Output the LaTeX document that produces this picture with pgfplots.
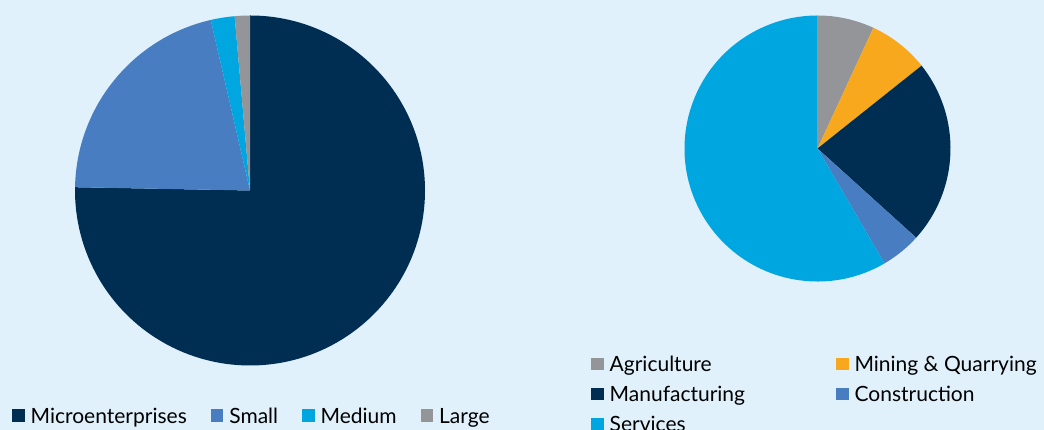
\documentclass[border=0pt]{standalone}
\usepackage{pgfplots}
\pgfplotsset{compat=1.18}
\usepackage{pgfplotstable}
\usepackage{fontspec}
\setmainfont{Lato}
\definecolor{cnavy}{RGB}{0,46,82}
\definecolor{csmall}{RGB}{72,126,193}
\definecolor{ccyan}{RGB}{0,166,224}
\definecolor{cgray}{RGB}{147,149,152}
\definecolor{corange}{RGB}{247,168,29}
\definecolor{cbg}{RGB}{224,241,251}

\pgfplotstableread{
sector share color
Microenterprises 75.3 cnavy
Small 21.1 csmall
Medium 2.2 ccyan
Large 1.4 cgray
}\sizedata
\pgfplotstableread{
sector share color
Agriculture 6.9 cgray
Mining 7.4 corange
Manufacturing 22.4 cnavy
Construction 4.9 csmall
Services 58.4 ccyan
}\sectordata

\newcommand\buildpie[5]{%
  \pgfplotstablegetrowsof{#1}\pgfmathtruncatemacro\nrows{\pgfplotsretval-1}%
  \gdef#5{}\xdef\cum{0}%
  \foreach \i in {0,...,\nrows}{%
    \pgfplotstablegetelem{\i}{share}\of#1\let\val\pgfplotsretval
    \pgfplotstablegetelem{\i}{color}\of#1\let\col\pgfplotsretval
    \pgfmathsetmacro\sa{90-3.6*\cum}%
    \pgfmathsetmacro\ea{90-3.6*(\cum+\val)}%
    \pgfmathsetmacro\newcum{\cum+\val}\xdef\cum{\newcum}%
    \xdef#5{\unexpanded\expandafter{#5}\noexpand\fill[\col] (axis cs:#2,#3) -- ++(\sa:#4pt) arc[start angle=\sa, end angle=\ea, radius=#4pt] -- cycle;}%
  }%
}
\buildpie{\sizedata}{250}{239.5}{175}{\leftpie}
\buildpie{\sectordata}{817.5}{281.5}{133}{\rightpie}

\pgfplotsset{
  pieaxis/.style={
    at={(0pt,0pt)}, anchor=south west,
    width=1044pt, height=430pt, scale only axis,
    xmin=0, xmax=1044, ymin=0, ymax=430,
    hide axis, clip=false,
    legend image code/.code={\fill[##1, draw=none] (0pt,-3.5pt) rectangle (12.5pt,9pt);},
    legend cell align=left,
    legend style={draw=none, fill=none, inner sep=0pt,
      nodes={inner sep=0pt, text height=15pt, text depth=5pt, font=\fontsize{21pt}{25pt}\selectfont},
      /tikz/every odd column/.append style={column sep=6pt}},
  }
}

\begin{document}
\begin{tikzpicture}
\fill[cbg] (0,0) rectangle (1044pt,430pt);
\clip (0,0) rectangle (1044pt,430pt);
\begin{axis}[pieaxis,
  legend columns=4,
  legend style={at={(12/1044,21.7/430)}, anchor=north west,
    /tikz/every even column/.append style={column sep=24pt}}]
\leftpie
\addlegendimage{fill=cnavy}\addlegendentry{Microenterprises}
\addlegendimage{fill=csmall}\addlegendentry{Small}
\addlegendimage{fill=ccyan}\addlegendentry{Medium}
\addlegendimage{fill=cgray}\addlegendentry{Large}
\end{axis}
\begin{axis}[pieaxis,
  legend columns=2,
  legend style={at={(591/1044,73.3/430)}, anchor=north west,
    /tikz/every even column/.append style={column sep=91pt},
    row sep=10pt}]
\rightpie
\addlegendimage{fill=cgray}\addlegendentry{Agriculture}
\addlegendimage{fill=corange}\addlegendentry{Mining \& Quarrying}
\addlegendimage{fill=cnavy}\addlegendentry{Manufacturing}
\addlegendimage{fill=csmall}\addlegendentry{Construction}
\addlegendimage{fill=ccyan}\addlegendentry{Services}
\end{axis}
\end{tikzpicture}
\end{document}
